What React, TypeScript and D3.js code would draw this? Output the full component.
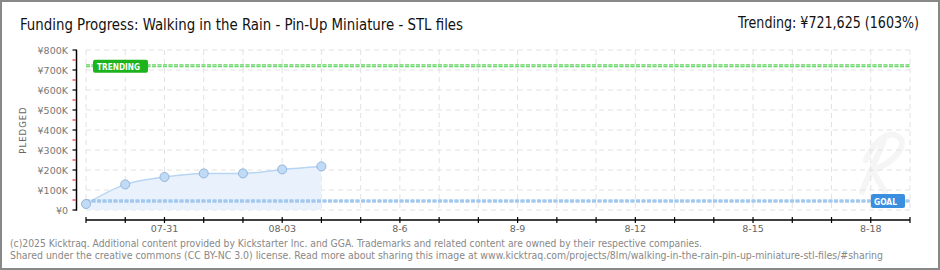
import React from "react";
import * as d3 from "d3";

const titleText = "Funding Progress: Walking in the Rain - Pin-Up Miniature - STL files";
const trendingText = "Trending: \u00a5721,625 (1603%)";
const footerLines = [
  "(c)2025 Kicktraq. Additional content provided by Kickstarter Inc. and GGA. Trademarks and related content are owned by their respective companies.",
  "Shared under the creative commons (CC BY-NC 3.0) license. Read more about sharing this image at www.kicktraq.com/projects/8lm/walking-in-the-rain-pin-up-miniature-stl-files/#sharing",
];

const pledgeDates = ["2025-07-29", "2025-07-30", "2025-07-31", "2025-08-01", "2025-08-02", "2025-08-03", "2025-08-04"];
const pledgeValues = [30000, 128000, 165000, 183000, 183000, 203000, 218000];

const goalValue = 45000;
const trendingValue = 721625;

const domainStart = "2025-07-29";
const domainEnd = "2025-08-19";

const xLabelDates = ["2025-07-31", "2025-08-03", "2025-08-06", "2025-08-09", "2025-08-12", "2025-08-15", "2025-08-18"];
const xLabelTexts = ["07-31", "08-03", "8-6", "8-9", "8-12", "8-15", "8-18"];

const yTickValues = [0, 100000, 200000, 300000, 400000, 500000, 600000, 700000, 800000];
const yTickLabels = ["\u00a50", "\u00a5100K", "\u00a5200K", "\u00a5300K", "\u00a5400K", "\u00a5500K", "\u00a5600K", "\u00a5700K", "\u00a5800K"];

const parse = (s: string) => new Date(s + "T00:00:00Z");

export default function App() {
  const W = 940, H = 270;
  const x = d3.scaleUtc().domain([parse(domainStart), parse(domainEnd)]).range([86, 910]);
  const y = d3.scaleLinear().domain([0, 800000]).range([210, 50]);
  const days = d3.utcDay.range(parse(domainStart), d3.utcDay.offset(parse(domainEnd), 1));
  const pts = pledgeDates.map((d, i) => ({ d: parse(d), v: pledgeValues[i] }));
  const line = d3.line<any>().x((p) => x(p.d)).y((p) => y(p.v)).curve(d3.curveMonotoneX);
  const area = d3.area<any>().x((p) => x(p.d)).y0(y(0)).y1((p) => y(p.v)).curve(d3.curveMonotoneX);
  const minorTicks = yTickValues.slice(0, -1).map((v) => v + 50000);
  const x0 = x.range()[0], x1 = x.range()[1];
  const axisY = 220;
  const gy = y(goalValue);
  const ty = y(trendingValue);
  const pixelFont = "'DejaVu Sans', Verdana, sans-serif";

  return (
    <svg width={W} height={H} style={{ position: "absolute", left: 0, top: 0 }} xmlns="http://www.w3.org/2000/svg">
      <rect x={1} y={1} width={W - 2} height={H - 2} fill="#fff" stroke="#888" strokeWidth={2} />
      <text x={20} y={30} fontFamily="'DejaVu Sans Condensed', 'DejaVu Sans', sans-serif" fontSize={16} fill="#111" textLength={443} lengthAdjust="spacingAndGlyphs">{titleText}</text>
      <text x={919} y={28} textAnchor="end" fontFamily="'DejaVu Sans Condensed', 'DejaVu Sans', sans-serif" fontSize={16} fill="#111" textLength={181} lengthAdjust="spacingAndGlyphs">{trendingText}</text>

      {/* watermark */}
      <path d="M862,192 L884,140 M870,172 C900,160 910,140 895,135 C885,132 872,145 866,160 M872,170 L885,192" fill="none" stroke="#f5f5f5" strokeWidth={6} strokeLinecap="round" />

      {/* grid */}
      {days.map((d, i) => (
        <line key={"vg" + i} x1={x(d)} x2={x(d)} y1={y(800000)} y2={y(0)} stroke="#e2e2e2" strokeDasharray="5,4" />
      ))}
      {yTickValues.map((v, i) => (
        <line key={"hg" + i} x1={x0} x2={x1} y1={y(v)} y2={y(v)} stroke="#e2e2e2" strokeDasharray="5,4" />
      ))}

      {/* area + line */}
      <path d={area(pts) || ""} fill="#e9f2fc" />
      <path d={line(pts) || ""} fill="none" stroke="#b8d5f3" strokeWidth={1.5} />

      {/* goal line */}
      <line x1={x0} x2={x1} y1={gy} y2={gy} stroke="#80b2e6" strokeWidth={3} strokeDasharray="4,1.5" />
      <line x1={x0} x2={x1} y1={gy} y2={gy} stroke="#c6ddf5" strokeWidth={1} strokeDasharray="4,1.5" />
      {/* trending line */}
      <line x1={x0} x2={x1} y1={ty} y2={ty} stroke="#5ed45e" strokeWidth={3} strokeDasharray="4,1.5" />
      <line x1={x0} x2={x1} y1={ty} y2={ty} stroke="#b4ecb4" strokeWidth={1} strokeDasharray="4,1.5" />

      {/* points */}
      {pts.map((p, i) => (
        <circle key={"pt" + i} cx={x(p.d)} cy={y(p.v)} r={4.5} fill="#c0dbf6" stroke="#93b4d9" strokeWidth={1} />
      ))}

      {/* trending label */}
      <rect x={93} y={ty - 6} width={55} height={13} rx={2} fill="#1db31d" />
      <text x={97} y={ty + 4} fontFamily={pixelFont} fontSize={9.5} fontWeight="bold" fill="#fff" textLength={43} lengthAdjust="spacingAndGlyphs">TRENDING</text>
      {/* goal label */}
      <rect x={871} y={gy - 7} width={34} height={14} rx={2} fill="#3a8ee0" />
      <text x={874} y={gy + 4} fontFamily={pixelFont} fontSize={9.5} fontWeight="bold" fill="#fff" textLength={23} lengthAdjust="spacingAndGlyphs">GOAL</text>

      {/* y axis */}
      <line x1={76.5} x2={76.5} y1={y(800000)} y2={y(0) + 0.5} stroke="#000" strokeWidth={1.5} />
      {yTickValues.map((v, i) => (
        <line key={"yt" + i} x1={72.5} x2={77} y1={y(v)} y2={y(v)} stroke="#000" strokeWidth={1.2} />
      ))}
      {minorTicks.map((v, i) => (
        <line key={"ym" + i} x1={72.5} x2={75.5} y1={y(v)} y2={y(v)} stroke="#e00" strokeWidth={1} />
      ))}
      {yTickValues.map((v, i) => (
        <text key={"yl" + i} x={68} y={y(v) + 3.5} textAnchor="end" fontFamily={pixelFont} fontSize={9.5} fill="#777">{yTickLabels[i]}</text>
      ))}
      <text transform={`translate(26,${130}) rotate(-90)`} textAnchor="middle" fontFamily={pixelFont} fontSize={8.5} letterSpacing={1} fill="#666">PLEDGED</text>

      {/* x axis */}
      <line x1={x0} x2={x1} y1={axisY} y2={axisY} stroke="#000" strokeWidth={1.5} />
      {days.map((d, i) => (
        <line key={"xt" + i} x1={x(d)} x2={x(d)} y1={axisY - 3} y2={axisY + 3} stroke="#000" strokeWidth={1.2} />
      ))}
      {xLabelDates.map((d, i) => (
        <text key={"xl" + i} x={x(parse(d))} y={232} textAnchor="middle" fontFamily={pixelFont} fontSize={9.5} fill="#666">{xLabelTexts[i]}</text>
      ))}

      {/* footer */}
      <text x={10} y={247} fontFamily={pixelFont} fontSize={10} fill="#888" textLength={692} lengthAdjust="spacingAndGlyphs">{footerLines[0]}</text>
      <text x={10} y={259} fontFamily={pixelFont} fontSize={10} fill="#888" textLength={873} lengthAdjust="spacingAndGlyphs">{footerLines[1]}</text>
    </svg>
  );
}
